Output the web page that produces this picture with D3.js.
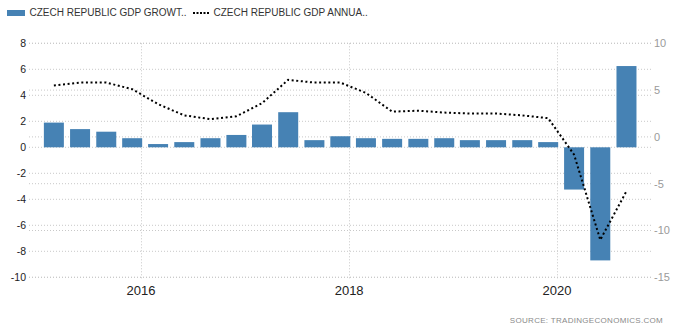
<!DOCTYPE html>
<html>
<head>
<meta charset="utf-8">
<script src="https://cdn.jsdelivr.net/npm/d3@7/dist/d3.min.js"></script>
<style>
  html, body { margin: 0; padding: 0; background: #fff; }
  svg { display: block; }
</style>
</head>
<body>
<svg id="chart" width="677" height="328"></svg>
<script>
// ---- data ----
const quarters = ["2015Q1","2015Q2","2015Q3","2015Q4","2016Q1","2016Q2","2016Q3","2016Q4",
                  "2017Q1","2017Q2","2017Q3","2017Q4","2018Q1","2018Q2","2018Q3","2018Q4",
                  "2019Q1","2019Q2","2019Q3","2019Q4","2020Q1","2020Q2","2020Q3"];
const gdpGrowthQoQ = [1.9, 1.4, 1.2, 0.7, 0.25, 0.4, 0.7, 0.95,
                      1.75, 2.7, 0.55, 0.85, 0.7, 0.65, 0.65, 0.7,
                      0.55, 0.55, 0.55, 0.4, -3.25, -8.7, 6.25];
const gdpAnnual = [5.5, 5.8, 5.8, 5.1, 3.5, 2.3, 1.9, 2.2,
                   3.6, 6.1, 5.8, 5.8, 4.7, 2.7, 2.8, 2.6,
                   2.5, 2.5, 2.3, 2.0, -1.9, -11.0, -5.8];
const leftTicks = [8, 6, 4, 2, 0, -2, -4, -6, -8, -10];
const rightTicks = [10, 5, 0, -5, -10, -15];
const yearTicks = [2016, 2018, 2020];
const legendLabels = ["CZECH REPUBLIC GDP GROWT..", "CZECH REPUBLIC GDP ANNUA.."];
const sourceText = "SOURCE:  TRADINGECONOMICS.COM";

// ---- layout ----
const svg = d3.select("#chart");
const plot = { left: 29, right: 652, top: 43.3, bottom: 277.3 };

const toDate = q => new Date(+q.slice(0, 4), (+q.slice(5)) * 3 - 1, 1);
const x = d3.scaleTime()
  .domain([new Date(2016, 0, 1), new Date(2020, 0, 1)])
  .range([141, 557]);
const yL = d3.scaleLinear().domain([-10, 8]).range([plot.bottom, plot.top]);
const yR = d3.scaleLinear().domain([-15, 10]).range([plot.bottom, plot.top]);

const gridColor = "#c8c8c8";

// horizontal grid (both axes)
const grid = svg.append("g");
grid.selectAll("line.gl").data(leftTicks).join("line")
  .attr("x1", plot.left).attr("x2", plot.right)
  .attr("y1", d => yL(d)).attr("y2", d => yL(d))
  .attr("stroke", gridColor).attr("stroke-width", 1).attr("stroke-dasharray", "1,2");
grid.selectAll("line.gr").data(rightTicks).join("line")
  .attr("x1", plot.left).attr("x2", plot.right)
  .attr("y1", d => yR(d)).attr("y2", d => yR(d))
  .attr("stroke", gridColor).attr("stroke-width", 1).attr("stroke-dasharray", "1,2");
// vertical grid
grid.selectAll("line.gv").data(yearTicks).join("line")
  .attr("x1", d => Math.round(x(new Date(d, 0, 1))) + 0.5)
  .attr("x2", d => Math.round(x(new Date(d, 0, 1))) + 0.5)
  .attr("y1", plot.top).attr("y2", plot.bottom + 2)
  .attr("stroke", gridColor).attr("stroke-width", 1).attr("stroke-dasharray", "1,2");

// bars
const barW = 20;
svg.append("g").selectAll("rect").data(quarters).join("rect")
  .attr("x", (q) => x(toDate(q)) - barW / 2)
  .attr("width", barW)
  .attr("y", (q, i) => yL(Math.max(0, gdpGrowthQoQ[i])))
  .attr("height", (q, i) => Math.abs(yL(gdpGrowthQoQ[i]) - yL(0)))
  .attr("fill", "#4682b4");

// line
const line = d3.line()
  .x((q) => x(toDate(q)))
  .y((q, i) => yR(gdpAnnual[i]))
  .curve(d3.curveLinear);
svg.append("path").datum(quarters)
  .attr("d", line)
  .attr("fill", "none")
  .attr("stroke", "#000")
  .attr("stroke-width", 2)
  .attr("stroke-dasharray", "2,2.6");

// left axis labels
svg.append("g").selectAll("text").data(leftTicks).join("text")
  .attr("x", 26).attr("y", d => yL(d)).attr("dy", "0.36em")
  .attr("text-anchor", "end")
  .attr("font-family", "Liberation Sans, Arial, sans-serif")
  .attr("font-size", 10.5).attr("fill", "#222")
  .text(d => d);

// right axis labels
svg.append("g").selectAll("text").data(rightTicks).join("text")
  .attr("x", 654).attr("y", d => yR(d)).attr("dy", "0.36em")
  .attr("text-anchor", "start")
  .attr("font-family", "Liberation Sans, Arial, sans-serif")
  .attr("font-size", 11).attr("fill", "#9a9a9a")
  .text(d => d);

// bottom axis labels
svg.append("g").selectAll("text").data(yearTicks).join("text")
  .attr("x", d => x(new Date(d, 0, 1))).attr("y", 294.5)
  .attr("text-anchor", "middle")
  .attr("font-family", "Liberation Sans Narrow, Arial Narrow, sans-serif")
  .attr("font-size", 13).attr("fill", "#222")
  .text(d => d);

// legend
const lg = svg.append("g");
lg.append("rect").attr("x", 7).attr("y", 10).attr("width", 18).attr("height", 6).attr("fill", "#4682b4");
lg.append("text").attr("x", 29.5).attr("y", 16)
  .attr("font-family", "Liberation Sans, Arial, sans-serif").attr("font-size", 10)
  .attr("fill", "#333").text(legendLabels[0]);
lg.append("line").attr("x1", 193).attr("x2", 210).attr("y1", 13).attr("y2", 13)
  .attr("stroke", "#000").attr("stroke-width", 2).attr("stroke-dasharray", "2,1.5");
lg.append("text").attr("x", 213.5).attr("y", 16)
  .attr("font-family", "Liberation Sans, Arial, sans-serif").attr("font-size", 10)
  .attr("fill", "#333").text(legendLabels[1]);

// source
svg.append("text").attr("x", 663).attr("y", 322.5).attr("text-anchor", "end")
  .attr("font-family", "Liberation Sans Narrow, Arial Narrow, sans-serif")
  .attr("font-size", 8).attr("letter-spacing", 0.3).attr("fill", "#8a8a8a")
  .text(sourceText);
</script>
</body>
</html>
